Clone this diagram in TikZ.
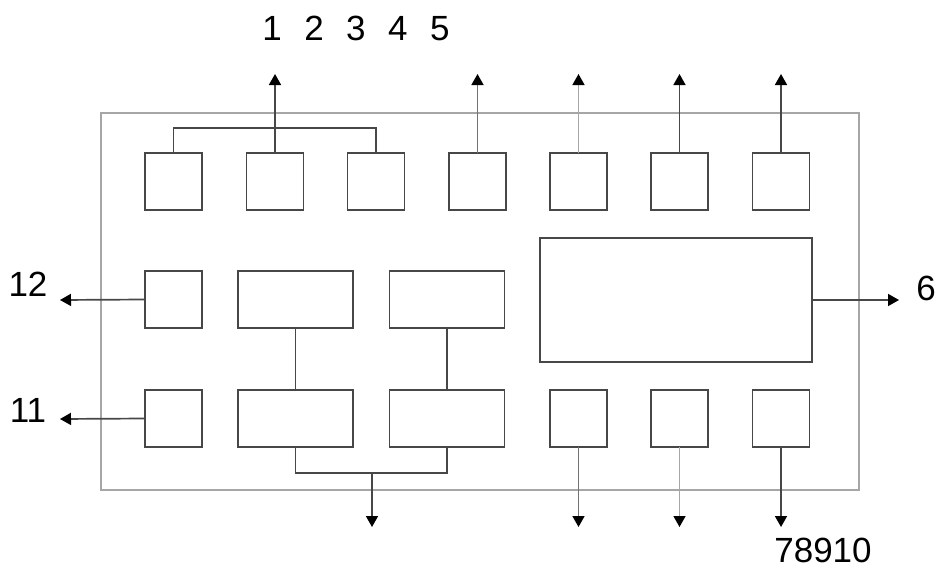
\documentclass[tikz,border=0pt]{standalone}
\usepackage{fontspec}
\setmainfont{Liberation Sans}
\usetikzlibrary{arrows.meta}
\begin{document}
\begin{tikzpicture}[x=1pt,y=-1pt,
  blk/.style={draw=black!72,line width=1.7pt,minimum width=57pt,minimum height=57pt,inner sep=0pt,outer sep=0pt},
  wide/.style={blk,minimum width=115pt},
  outer/.style={draw=black!35,line width=1.5pt},
  wire/.style={draw=black!72,line width=1.7pt},
  lightwire/.style={draw=black!35,line width=1.5pt},
  arr/.style={-{Triangle[width=12pt,length=11pt,color=black]}},
  lbl/.style={font=\fontsize{35}{40}\selectfont,inner sep=0pt,text=black}]
\useasboundingbox (0,0) rectangle (940,570);
\fill[white] (0,0) rectangle (940,570);
% outer housing
\draw[outer] (101,113) rectangle (859,490);
% top row
\node[blk] (t1) at (173.5,181.5) {};
\node[blk] (t2) at (275,181.5) {};
\node[blk] (t3) at (376,181.5) {};
\node[blk] (t4) at (477.5,181.5) {};
\node[blk] (t5) at (578.5,181.5) {};
\node[blk] (t6) at (679.5,181.5) {};
\node[blk] (t7) at (781,181.5) {};
% middle row
\node[blk] (m1) at (173.5,299.5) {};
\node[wide] (m2) at (295.5,299.5) {};
\node[wide] (m3) at (447,299.5) {};
\node[blk,minimum width=272pt,minimum height=124pt] (big) at (676,300) {};
% bottom row
\node[blk] (d1) at (173.5,418.5) {};
\node[wide] (d2) at (295.5,418.5) {};
\node[wide] (d3) at (447,418.5) {};
\node[blk] (d4) at (578.5,418.5) {};
\node[blk] (d5) at (679.5,418.5) {};
\node[blk] (d6) at (781,418.5) {};
% arrow end coordinates
\coordinate (u2) at (275,74);
\coordinate (u4) at (477.5,74);
\coordinate (u5) at (578.5,74);
\coordinate (u6) at (679.5,74);
\coordinate (u7) at (781,74);
\coordinate (l12) at (60,300);
\coordinate (l11) at (60,419);
\coordinate (r6) at (899,300);
\coordinate (bj) at (372,473);
\coordinate (bo) at (372,527);
\coordinate (o4) at (578.5,527);
\coordinate (o5) at (679.5,527);
\coordinate (o6) at (781,527);
% top connectors
\draw[wire] (t1.north) -- ++(0,-25) -| (t3.north);
\draw[wire,arr] (t2.north) -- (u2);
\draw[wire,draw=black!55,arr] (t4.north) -- (u4);
\draw[lightwire,arr] (t5.north) -- (u5);
\draw[wire,arr] (t6.north) -- (u6);
\draw[wire,arr] (t7.north) -- (u7);
% side connectors
\draw[wire,arr] (m1.west) -- (l12);
\draw[wire,arr] (d1.west) -- (l11);
\draw[wire,arr] (big.east) -- (r6);
% internal
\draw[wire] (m2.south) -- (d2.north);
\draw[wire] (m3.south) -- (d3.north);
\draw[wire] (d2.south) |- (bj) -| (d3.south);
\draw[wire,arr] (bj) -- (bo);
% bottom connectors
\draw[wire,draw=black!55,arr] (d4.south) -- (o4);
\draw[lightwire,arr] (d5.south) -- (o5);
\draw[wire,arr] (d6.south) -- (o6);
% labels
\node[lbl] (n15) at (356,28) {1\hspace{22.5pt}2\hspace{22.5pt}3\hspace{22.5pt}4\hspace{22.5pt}5};
\node[lbl] (n12) at (28,284) {12};
\node[lbl] (n11) at (28,410) {11};
\node[lbl] (n6) at (926,288) {6};
\node[lbl] (n78910) at (823,550) {78910};
\end{tikzpicture}
\end{document}
